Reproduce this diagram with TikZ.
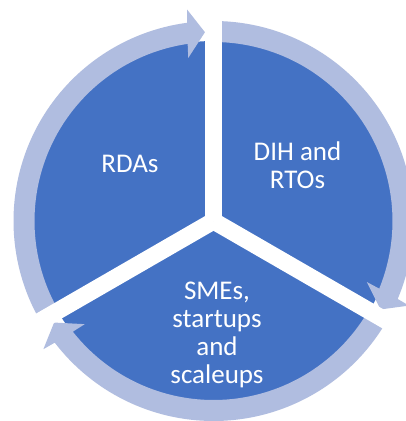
\documentclass[tikz,border=0pt]{standalone}
\usepackage{fontspec}
\setmainfont{Carlito}
\definecolor{segblue}{RGB}{68,114,196}
\definecolor{ringblue}{RGB}{176,189,224}
% #1 tail angle, #2 tip angle (clockwise arrow on the ring)
\newcommand\ringarrow[2]{%
  \fill[ringblue] (#1:200) arc[start angle=#1, end angle={#2+4.96}, radius=200]
    -- ({#2+4.5}:213) -- (#2:189) -- ({#2+6.2}:165) -- ({#2+5.7}:179)
    arc[start angle={#2+5.7}, end angle=#1, radius=179] -- cycle;}
\begin{document}
\begin{tikzpicture}[x=1pt,y=1pt,
  seglabel/.style={text=white, align=center, font=\fontsize{27}{28}\selectfont, inner sep=0pt},
  gapline/.style={white, line width=17pt, line cap=butt}]
\useasboundingbox (0,0) rectangle (406,-421);
\clip (0,0) rectangle (406,-421);
\fill[white] (0,0) rectangle (406,-421);
\coordinate (c) at (213.5,-221);
\fill[segblue] (c) circle[radius=180];
\begin{scope}[shift={(c)}]
  \ringarrow{210}{92.6}
  \ringarrow{90}{-27.9}
  \ringarrow{330}{212.5}
  \draw[gapline] (0,0) -- (90:240);
  \draw[gapline] (0,0) -- (210:240);
  \draw[gapline] (0,0) -- (330:240);
\end{scope}
\node[seglabel] (rdas) at (130,-164) {RDAs};
\node[seglabel] (dih) at (297.5,-165) {DIH and\\RTOs};
\node[seglabel] (smes) at (217,-335) {SMEs,\\startups\\and\\scaleups};
\end{tikzpicture}
\end{document}
